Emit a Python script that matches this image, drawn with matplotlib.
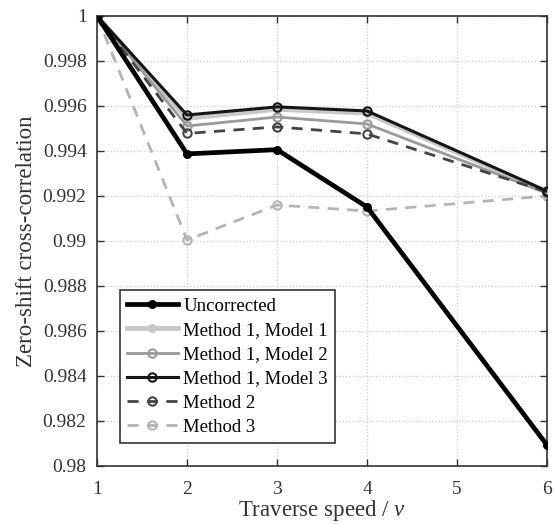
import matplotlib
matplotlib.use("Agg")
import matplotlib.pyplot as plt

plt.rcParams['font.family'] = ['Liberation Serif', 'DejaVu Serif']
plt.rcParams['mathtext.fontset'] = 'custom'
plt.rcParams['mathtext.rm'] = 'Liberation Serif'
plt.rcParams['mathtext.it'] = 'Liberation Serif:italic'

# data
speeds = [1, 2, 3, 4, 6]
uncorrected = [1.0, 0.99387, 0.99406, 0.99151, 0.98093]
m1_model1 = [1.0, 0.99545, 0.99585, 0.99568, 0.99218]
m1_model2 = [1.0, 0.99511, 0.99551, 0.99520, 0.99212]
m1_model3 = [1.0, 0.99560, 0.99596, 0.99578, 0.99222]
method2 = [1.0, 0.99478, 0.99507, 0.99476, 0.99218]
method3 = [1.0, 0.99004, 0.99160, 0.99133, 0.99200]

yticks = [0.98, 0.982, 0.984, 0.986, 0.988, 0.99, 0.992, 0.994, 0.996, 0.998, 1]

fig = plt.figure(figsize=(5.56, 5.24), dpi=100)
ax = fig.add_axes([0.1745, 0.1107, 0.8093, 0.8588])

ax.plot(speeds, uncorrected, '-', color='black', lw=3.4, marker='o', ms=5.5,
        mfc='black', mec='black', label='Uncorrected', zorder=5)
ax.plot(speeds, m1_model1, '-', color='#c8c8c8', lw=3.4, marker='o', ms=5.5,
        mfc='#c8c8c8', mec='#c8c8c8', label='Method 1, Model 1', zorder=3)
ax.plot(speeds, m1_model2, '-', color='#9a9a9a', lw=2, marker='o', ms=6,
        mfc='none', mec='#9a9a9a', mew=1.5, label='Method 1, Model 2', zorder=3)
ax.plot(speeds, m1_model3, '-', color='#151515', lw=2.2, marker='o', ms=6,
        mfc='none', mec='#151515', mew=1.5, label='Method 1, Model 3', zorder=4)
ax.plot(speeds, method2, '--', color='#444444', lw=2, marker='o', ms=6,
        mfc='none', mec='#444444', mew=1.5, dashes=(4, 3), label='Method 2', zorder=3)
ax.plot(speeds, method3, '--', color='#b4b4b4', lw=2, marker='o', ms=6,
        mfc='none', mec='#b4b4b4', mew=1.5, dashes=(4, 3), label='Method 3', zorder=2)

ax.set_xlim(1, 6)
ax.set_ylim(0.98, 1.0)
ax.set_xticks([1, 2, 3, 4, 5, 6])
ax.set_yticks(yticks)
ax.set_yticklabels(['%g' % t for t in yticks])
ax.tick_params(direction='in', top=True, right=True, labelsize=14, colors='#333333',
               length=5, width=1)
ax.tick_params(axis='x', pad=11)
ax.tick_params(axis='y', pad=7.5)
ax.grid(True, linestyle=':', color='#cccccc', lw=0.9)
for s in ax.spines.values():
    s.set_color('#333333')
    s.set_linewidth(1.2)

ax.set_xlabel('Traverse speed / $\\it{v}$', fontsize=16.5, color='#333333', labelpad=0)
ax.set_ylabel('Zero-shift cross-correlation', fontsize=16.5, color='#333333', labelpad=4)

leg = ax.legend(loc='lower left', bbox_to_anchor=(0.05, 0.05), fontsize=13.5,
                fancybox=False, framealpha=1, edgecolor='#333333',
                handlelength=2.7, borderpad=0.4, labelspacing=0.38, handletextpad=0.3,
                borderaxespad=0.0)
leg.get_frame().set_linewidth(1.2)

fig.savefig('out.png', dpi=100)
